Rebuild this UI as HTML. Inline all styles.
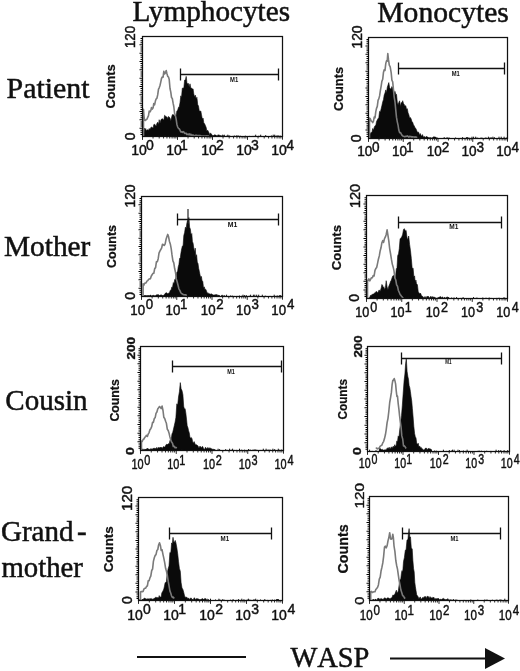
<!DOCTYPE html>
<html lang="en"><head><meta charset="utf-8"><title>WASP expression</title>
<style>
html,body{margin:0;padding:0;background:#fff}
body{width:520px;height:671px;overflow:hidden;position:relative}
svg{position:absolute;left:0;top:0;display:block}
text{fill:#111}
.ax{font-family:"Liberation Sans",sans-serif;stroke:#111;stroke-width:.45px}
.cnt{font-family:"Liberation Sans",sans-serif;font-weight:bold;stroke:#111;stroke-width:.25px}
.m1{font-family:"Liberation Sans",sans-serif;font-size:6.4px;font-weight:bold;text-anchor:middle}
.t{font-family:"Liberation Serif",serif;font-size:29px;stroke:#111;stroke-width:.5px}
</style></head><body>
<svg width="520" height="671" viewBox="0 0 520 671">
<rect width="520" height="671" fill="#fff"/>
<text class="t" x="132.6" y="21.2" textLength="157.5" lengthAdjust="spacingAndGlyphs">Lymphocytes</text>
<text class="t" x="377.3" y="22.3" textLength="131.5" lengthAdjust="spacingAndGlyphs">Monocytes</text>
<text class="t" x="6.6" y="98" textLength="83" lengthAdjust="spacingAndGlyphs">Patient</text>
<text class="t" x="4" y="255.8" textLength="86.4" lengthAdjust="spacingAndGlyphs">Mother</text>
<text class="t" x="5.3" y="410">Cousin</text>
<text class="t" x="1" y="540.8">Grand<tspan dx="3.5">-</tspan></text>
<text class="t" x="1.5" y="577" textLength="81.4" lengthAdjust="spacingAndGlyphs">mother</text>
<g><path d="M143.8 136.5 L143.8 136.3 L144.3 128.0 L145.0 130.1 L145.7 128.5 L146.3 130.5 L147.0 130.3 L147.7 129.6 L148.5 130.6 L149.2 128.5 L150.0 129.5 L150.8 127.7 L151.5 126.9 L152.3 127.4 L153.1 128.3 L153.8 124.6 L154.6 124.2 L155.4 125.2 L156.2 125.9 L156.9 123.4 L157.7 122.2 L158.5 124.6 L159.2 119.7 L160.0 123.3 L160.8 120.2 L161.5 119.1 L162.3 118.7 L163.1 119.3 L163.8 120.3 L164.6 115.3 L165.4 115.9 L166.2 117.2 L166.9 116.7 L167.7 118.7 L168.5 116.5 L169.2 116.9 L170.0 118.1 L170.8 120.9 L171.5 117.6 L172.3 114.8 L173.1 114.4 L173.8 115.1 L174.6 115.8 L175.4 117.1 L176.2 115.0 L176.9 110.8 L177.7 110.2 L178.5 107.3 L179.2 107.2 L180.0 102.7 L180.8 95.8 L181.5 97.6 L182.3 88.2 L183.1 88.0 L183.8 88.3 L184.6 80.1 L185.4 79.9 L186.2 76.4 L186.9 82.5 L187.7 83.9 L188.5 83.5 L189.2 87.3 L190.0 83.8 L190.8 88.0 L191.5 88.1 L192.3 88.9 L193.1 88.9 L193.8 94.0 L194.6 96.8 L195.4 95.2 L196.2 99.2 L196.9 97.3 L197.7 104.5 L198.5 106.1 L199.2 110.4 L200.0 111.3 L200.8 111.0 L201.5 114.7 L202.3 118.9 L203.1 118.1 L203.8 122.9 L204.6 123.7 L205.4 125.6 L206.2 127.6 L206.9 131.2 L207.7 130.2 L208.5 131.7 L209.2 133.3 L209.9 134.7 L210.5 132.9 L211.2 134.1 L211.9 134.5 L212.5 135.5 L213.2 135.5 L213.8 135.8 L214.5 134.7 L215.2 135.0 L215.9 135.0 L216.6 136.1 L217.3 136.3 L217.9 134.8 L218.6 135.0 L219.3 135.2 L220.0 135.2 L220.7 135.7 L221.4 135.9 L222.1 135.4 L222.7 135.0 L223.4 135.7 L224.1 135.7 L224.8 136.0 L225.5 136.5 L226.2 136.3 L226.8 136.1 L227.5 136.3 L228.2 136.4 L228.9 135.6 L229.6 136.5 L230.3 136.5 L230.9 136.5 L231.6 136.5 L232.3 136.5 L232.3 136.5Z" fill="#0a0a0a" stroke="#0a0a0a" stroke-width="0.6" stroke-linejoin="round"/>
<path d="M148.9 136.5v-1.8M149.9 136.5v-0.8M152.3 136.5v-0.6M153.9 136.5v-0.8M158.6 136.5v-1.4M160.7 136.5v-0.8M164.2 136.5v-1.8M165.6 136.5v-1.4M168.4 136.5v-1.4M169.9 136.5v-0.6M171.4 136.5v-1.0M173.5 136.5v-0.8M176.4 136.5v-1.4M180.3 136.5v-1.4M181.9 136.5v-0.6M183.2 136.5v-1.0M184.7 136.5v-0.8M186.4 136.5v-1.0M190.2 136.5v-1.0M191.3 136.5v-1.8M194.7 136.5v-1.4M196.2 136.5v-1.0M198.0 136.5v-0.8M199.4 136.5v-0.8M201.5 136.5v-0.8M203.6 136.5v-1.0M204.8 136.5v-1.8M208.0 136.5v-0.8M213.9 136.5v-1.0M215.4 136.5v-0.6M216.8 136.5v-0.8M221.0 136.5v-0.6M224.2 136.5v-1.8M226.1 136.5v-0.6M227.8 136.5v-1.8M229.5 136.5v-0.8M230.5 136.5v-0.6M232.9 136.5v-0.6M234.3 136.5v-1.0M236.3 136.5v-1.0M237.1 136.5v-1.0M238.3 136.5v-1.0M240.2 136.5v-0.8M245.4 136.5v-0.8M249.4 136.5v-0.6M253.0 136.5v-0.6M254.6 136.5v-0.6M255.7 136.5v-1.8M258.9 136.5v-0.8M260.7 136.5v-1.8M265.7 136.5v-1.4M271.4 136.5v-1.0M273.2 136.5v-1.8M274.7 136.5v-1.8M276.2 136.5v-1.0M278.0 136.5v-1.4M280.1 136.5v-1.0" stroke="#111" stroke-width="1" fill="none"/>
<path d="M143.5 136.0 L143.5 123.7 L143.5 109.4 L144.0 116.0 L144.6 120.3 L145.4 120.4 L146.2 119.6 L146.9 119.2 L147.7 117.4 L148.5 115.7 L149.2 111.1 L150.0 111.9 L150.8 110.6 L151.5 107.5 L152.3 109.1 L153.1 107.9 L153.8 103.5 L154.6 104.9 L155.4 101.1 L156.2 98.8 L156.9 98.3 L157.7 94.9 L158.5 89.2 L159.2 87.8 L160.0 85.5 L160.8 81.9 L161.5 78.5 L162.3 77.0 L163.1 77.1 L163.8 71.3 L164.6 73.9 L165.4 73.0 L166.2 70.5 L166.9 73.5 L167.7 76.3 L168.5 77.0 L169.2 79.4 L170.0 88.5 L170.8 92.1 L171.5 97.4 L172.3 98.4 L173.1 103.2 L173.8 106.5 L174.6 113.3 L175.4 115.7 L176.2 119.4 L176.9 124.4 L177.7 127.1 L178.5 128.4 L179.2 128.7 L180.0 130.1 L180.8 131.9 L181.5 131.7 L182.3 132.3 L183.1 131.6 L183.8 132.0 L184.6 133.4 L185.4 133.4 L186.2 133.2 L186.9 134.6 L187.7 134.3 L188.5 134.7 L189.2 133.9 L190.0 135.1 L190.8 134.2 L191.5 135.4 L192.3 135.0 L193.1 135.1 L193.8 135.4 L194.6 135.9 L195.4 135.3 L196.2 135.2 L196.9 135.7 L197.7 135.5 L198.5 135.5 L199.2 135.6 L200.0 135.6 L200.8 135.8 L201.5 136.0 L202.3 136.0 L203.1 136.0 L203.8 136.0 L204.6 136.0 L205.4 136.0 L206.2 136.0 L206.9 135.9 L207.7 136.0 L208.5 136.0 L209.2 136.0" fill="none" stroke="#7a7a7a" stroke-width="1.6" stroke-linejoin="round"/>
<rect x="142.5" y="36.5" width="140.0" height="100.0" fill="none" stroke="#111" stroke-width="1.25"/>
<path d="M142.5 134.42h-2.0M142.5 132.33h-2.0M142.5 130.25h-2.0M142.5 128.17h-3.0M142.5 126.08h-2.0M142.5 124.00h-2.0M142.5 121.92h-2.0M142.5 119.83h-3.0M142.5 117.75h-2.0M142.5 115.67h-2.0M142.5 113.58h-2.0M142.5 111.50h-3.0M142.5 109.42h-2.0M142.5 107.33h-2.0M142.5 105.25h-2.0M142.5 103.17h-3.0M142.5 101.08h-2.0M142.5 99.00h-2.0M142.5 96.92h-2.0M142.5 94.83h-3.0M142.5 92.75h-2.0M142.5 90.67h-2.0M142.5 88.58h-2.0M142.5 86.50h-3.0M142.5 84.42h-2.0M142.5 82.33h-2.0M142.5 80.25h-2.0M142.5 78.17h-3.0M142.5 76.08h-2.0M142.5 74.00h-2.0M142.5 71.92h-2.0M142.5 69.83h-3.0M142.5 67.75h-2.0M142.5 65.67h-2.0M142.5 63.58h-2.0M142.5 61.50h-3.0M142.5 59.42h-2.0M142.5 57.33h-2.0M142.5 55.25h-2.0M142.5 53.17h-3.0M142.5 51.08h-2.0M142.5 49.00h-2.0M142.5 46.92h-2.0M142.5 44.83h-3.0M142.5 42.75h-2.0M142.5 40.67h-2.0M142.5 38.58h-2.0" stroke="#000" stroke-width="1.05" fill="none"/>
<path d="M142.50 136.5v3.4M153.04 136.5v2.0M159.20 136.5v2.0M163.57 136.5v2.0M166.96 136.5v2.0M169.74 136.5v2.0M172.08 136.5v2.0M174.11 136.5v2.0M175.90 136.5v2.0M177.50 136.5v3.4M188.04 136.5v2.0M194.20 136.5v2.0M198.57 136.5v2.0M201.96 136.5v2.0M204.74 136.5v2.0M207.08 136.5v2.0M209.11 136.5v2.0M210.90 136.5v2.0M212.50 136.5v3.4M223.04 136.5v2.0M229.20 136.5v2.0M233.57 136.5v2.0M236.96 136.5v2.0M239.74 136.5v2.0M242.08 136.5v2.0M244.11 136.5v2.0M245.90 136.5v2.0M247.50 136.5v3.4M258.04 136.5v2.0M264.20 136.5v2.0M268.57 136.5v2.0M271.96 136.5v2.0M274.74 136.5v2.0M277.08 136.5v2.0M279.11 136.5v2.0M280.90 136.5v2.0M282.50 136.5v3.2" stroke="#111" stroke-width="0.9" fill="none"/>
<path d="M180.5 74.5H278.5M180.5 68.5v12M278.5 68.5v12" stroke="#111" stroke-width="1.3" fill="none"/>
<text x="234.2" y="81.5" class="m1" textLength="8.2" lengthAdjust="spacingAndGlyphs">M1</text>
<text transform="translate(146.80 154.5) scale(1.000 1)" class="ax" font-size="14" text-anchor="end">10</text>
<text transform="translate(145.90 149.5) scale(1.000 1)" class="ax" font-size="14">0</text>
<text transform="translate(181.80 154.5) scale(1.000 1)" class="ax" font-size="14" text-anchor="end">10</text>
<text transform="translate(179.97 149.5) scale(1.000 1)" class="ax" font-size="14">1</text>
<text transform="translate(216.80 154.5) scale(1.000 1)" class="ax" font-size="14" text-anchor="end">10</text>
<text transform="translate(216.08 149.5) scale(1.000 1)" class="ax" font-size="14">2</text>
<text transform="translate(251.80 154.5) scale(1.000 1)" class="ax" font-size="14" text-anchor="end">10</text>
<text transform="translate(251.08 149.5) scale(1.000 1)" class="ax" font-size="14">3</text>
<text transform="translate(286.80 154.5) scale(1.000 1)" class="ax" font-size="14" text-anchor="end">10</text>
<text transform="translate(286.22 149.5) scale(1.000 1)" class="ax" font-size="14">4</text>
<text transform="translate(135.0 37.0) rotate(-90) scale(1 1.00)" class="ax" font-size="14" text-anchor="middle" textLength="22.0" lengthAdjust="spacingAndGlyphs">120</text>
<text transform="translate(134.6 136.3) rotate(-90) scale(1 1.00)" class="ax" font-size="14" text-anchor="middle">0</text>
<text transform="translate(115.0 86.4) rotate(-90) scale(1 1.00)" class="cnt" font-size="13" text-anchor="middle" textLength="44.3" lengthAdjust="spacingAndGlyphs">Counts</text></g>
<g><path d="M369.0 138.5 L369.0 138.1 L369.6 136.0 L370.4 133.2 L371.2 132.2 L371.9 132.8 L372.7 128.5 L373.5 130.2 L374.2 127.4 L375.0 125.7 L375.8 125.5 L376.5 121.4 L377.3 120.0 L378.1 118.5 L378.8 117.8 L379.6 111.3 L380.4 111.9 L381.2 108.6 L381.9 105.6 L382.7 101.9 L383.5 99.4 L384.2 95.1 L385.0 93.0 L385.8 89.9 L386.5 92.7 L387.3 87.2 L388.1 84.8 L388.8 82.6 L389.6 87.6 L390.4 89.1 L391.2 88.6 L391.9 86.6 L392.7 87.9 L393.5 89.9 L394.2 92.8 L395.0 91.4 L395.8 94.7 L396.5 94.3 L397.3 102.3 L398.1 105.0 L398.8 102.5 L399.6 100.8 L400.4 106.6 L401.2 102.5 L401.9 103.0 L402.7 100.7 L403.5 103.6 L404.2 104.4 L405.0 106.2 L405.8 105.7 L406.5 109.3 L407.3 108.7 L408.1 112.9 L408.8 114.6 L409.6 117.9 L410.4 117.5 L411.2 119.1 L411.9 121.6 L412.7 122.3 L413.5 125.0 L414.2 125.8 L415.0 127.8 L415.8 128.4 L416.5 130.1 L417.3 132.2 L418.1 131.9 L418.8 132.5 L419.6 135.3 L420.4 133.6 L421.2 136.0 L421.8 135.9 L422.5 134.6 L423.2 136.8 L423.8 137.1 L424.5 136.6 L425.2 137.1 L425.9 137.4 L426.5 136.2 L427.2 137.0 L427.9 137.1 L428.5 137.8 L429.2 137.8 L429.8 137.9 L430.5 137.5 L431.2 138.1 L431.8 137.8 L432.5 137.8 L433.2 137.0 L433.9 136.7 L434.6 136.9 L435.3 137.3 L435.9 136.9 L436.6 138.2 L437.3 137.7 L437.3 138.5Z" fill="#0a0a0a" stroke="#0a0a0a" stroke-width="0.6" stroke-linejoin="round"/>
<path d="M371.2 138.5v-1.0M379.5 138.5v-1.8M382.7 138.5v-1.0M384.5 138.5v-1.0M385.6 138.5v-1.8M388.0 138.5v-1.4M389.9 138.5v-1.0M390.8 138.5v-0.6M392.0 138.5v-1.4M393.7 138.5v-0.6M397.8 138.5v-1.8M399.0 138.5v-1.4M400.4 138.5v-1.8M402.3 138.5v-1.0M408.8 138.5v-1.8M412.1 138.5v-1.0M414.0 138.5v-1.4M416.1 138.5v-0.6M417.8 138.5v-1.4M419.8 138.5v-0.8M420.9 138.5v-1.8M422.3 138.5v-0.6M423.1 138.5v-1.8M426.1 138.5v-0.6M428.7 138.5v-0.8M429.5 138.5v-0.8M433.6 138.5v-1.0M435.4 138.5v-1.4M444.2 138.5v-1.4M445.9 138.5v-0.6M447.1 138.5v-1.4M448.5 138.5v-0.8M449.5 138.5v-0.8M455.6 138.5v-1.0M460.9 138.5v-0.6M462.6 138.5v-1.4M464.1 138.5v-0.6M466.4 138.5v-1.4M467.6 138.5v-1.4M468.9 138.5v-1.0M471.1 138.5v-0.6M472.0 138.5v-1.8M473.6 138.5v-1.8M475.7 138.5v-1.8M477.1 138.5v-1.0M478.2 138.5v-0.6M480.7 138.5v-0.8M481.9 138.5v-1.0M485.3 138.5v-1.0M486.6 138.5v-0.8M488.4 138.5v-1.8M489.6 138.5v-0.8M490.6 138.5v-1.0M491.5 138.5v-1.0M492.9 138.5v-1.8M494.3 138.5v-1.4M499.0 138.5v-1.8M501.2 138.5v-1.8M504.1 138.5v-1.8M506.3 138.5v-1.0" stroke="#111" stroke-width="1" fill="none"/>
<path d="M369.5 138.0 L369.5 131.8 L369.5 118.1 L369.5 120.9 L370.2 118.5 L371.2 121.0 L371.9 121.4 L372.7 122.6 L373.5 121.2 L374.2 117.1 L375.0 117.8 L375.8 111.6 L376.5 108.4 L377.3 106.4 L378.1 100.1 L378.8 98.9 L379.6 95.9 L380.4 90.3 L381.2 85.8 L381.9 81.2 L382.7 79.3 L383.5 72.2 L384.2 69.7 L385.0 70.4 L385.8 63.4 L386.5 60.9 L387.2 61.2 L387.8 53.6 L388.5 59.7 L389.3 65.2 L390.2 66.8 L391.2 72.9 L391.9 80.2 L392.7 81.8 L393.5 90.1 L394.2 97.1 L395.0 102.0 L395.8 110.4 L396.5 117.4 L397.3 121.8 L398.1 125.4 L398.8 130.1 L399.6 132.6 L400.4 132.5 L401.2 133.8 L401.9 135.1 L402.7 136.0 L403.5 136.2 L404.2 136.6 L405.0 136.7 L405.8 136.3 L406.5 136.4 L407.3 135.9 L408.1 136.4 L408.8 137.1 L409.6 136.3 L410.4 136.8 L411.2 136.6 L411.9 137.3 L412.7 136.7 L413.5 137.1 L414.2 136.9 L415.0 137.6 L415.8 136.8 L416.5 137.5 L417.3 137.4" fill="none" stroke="#7a7a7a" stroke-width="1.6" stroke-linejoin="round"/>
<rect x="368.5" y="37.5" width="139.0" height="101.0" fill="none" stroke="#111" stroke-width="1.25"/>
<path d="M368.5 136.40h-2.0M368.5 134.29h-2.0M368.5 132.19h-2.0M368.5 130.08h-3.0M368.5 127.98h-2.0M368.5 125.88h-2.0M368.5 123.77h-2.0M368.5 121.67h-3.0M368.5 119.56h-2.0M368.5 117.46h-2.0M368.5 115.35h-2.0M368.5 113.25h-3.0M368.5 111.15h-2.0M368.5 109.04h-2.0M368.5 106.94h-2.0M368.5 104.83h-3.0M368.5 102.73h-2.0M368.5 100.62h-2.0M368.5 98.52h-2.0M368.5 96.42h-3.0M368.5 94.31h-2.0M368.5 92.21h-2.0M368.5 90.10h-2.0M368.5 88.00h-3.0M368.5 85.90h-2.0M368.5 83.79h-2.0M368.5 81.69h-2.0M368.5 79.58h-3.0M368.5 77.48h-2.0M368.5 75.38h-2.0M368.5 73.27h-2.0M368.5 71.17h-3.0M368.5 69.06h-2.0M368.5 66.96h-2.0M368.5 64.85h-2.0M368.5 62.75h-3.0M368.5 60.65h-2.0M368.5 58.54h-2.0M368.5 56.44h-2.0M368.5 54.33h-3.0M368.5 52.23h-2.0M368.5 50.12h-2.0M368.5 48.02h-2.0M368.5 45.92h-3.0M368.5 43.81h-2.0M368.5 41.71h-2.0M368.5 39.60h-2.0" stroke="#000" stroke-width="1.05" fill="none"/>
<path d="M368.50 138.5v3.4M378.96 138.5v2.0M385.08 138.5v2.0M389.42 138.5v2.0M392.79 138.5v2.0M395.54 138.5v2.0M397.87 138.5v2.0M399.88 138.5v2.0M401.66 138.5v2.0M403.25 138.5v3.4M413.71 138.5v2.0M419.83 138.5v2.0M424.17 138.5v2.0M427.54 138.5v2.0M430.29 138.5v2.0M432.62 138.5v2.0M434.63 138.5v2.0M436.41 138.5v2.0M438.00 138.5v3.4M448.46 138.5v2.0M454.58 138.5v2.0M458.92 138.5v2.0M462.29 138.5v2.0M465.04 138.5v2.0M467.37 138.5v2.0M469.38 138.5v2.0M471.16 138.5v2.0M472.75 138.5v3.4M483.21 138.5v2.0M489.33 138.5v2.0M493.67 138.5v2.0M497.04 138.5v2.0M499.79 138.5v2.0M502.12 138.5v2.0M504.13 138.5v2.0M505.91 138.5v2.0M507.50 138.5v3.2" stroke="#111" stroke-width="0.9" fill="none"/>
<path d="M398.5 68.5H504.5M398.5 62.5v12M504.5 62.5v12" stroke="#111" stroke-width="1.3" fill="none"/>
<text x="455.8" y="76.3" class="m1" textLength="8.1" lengthAdjust="spacingAndGlyphs">M1</text>
<text transform="translate(372.38 155.9) scale(0.970 1)" class="ax" font-size="14" text-anchor="end">10</text>
<text transform="translate(372.12 151.5) scale(0.970 1)" class="ax" font-size="14">0</text>
<text transform="translate(407.13 155.9) scale(0.970 1)" class="ax" font-size="14" text-anchor="end">10</text>
<text transform="translate(405.97 151.5) scale(0.970 1)" class="ax" font-size="14">1</text>
<text transform="translate(441.88 155.9) scale(0.970 1)" class="ax" font-size="14" text-anchor="end">10</text>
<text transform="translate(441.79 151.5) scale(0.970 1)" class="ax" font-size="14">2</text>
<text transform="translate(476.63 155.9) scale(0.970 1)" class="ax" font-size="14" text-anchor="end">10</text>
<text transform="translate(476.54 151.5) scale(0.970 1)" class="ax" font-size="14">3</text>
<text transform="translate(511.38 155.9) scale(0.970 1)" class="ax" font-size="14" text-anchor="end">10</text>
<text transform="translate(511.43 151.5) scale(0.970 1)" class="ax" font-size="14">4</text>
<text transform="translate(361.6 37.0) rotate(-90) scale(1 1.00)" class="ax" font-size="14" text-anchor="middle" textLength="23.2" lengthAdjust="spacingAndGlyphs">120</text>
<text transform="translate(360.7 138.3) rotate(-90) scale(1 1.00)" class="ax" font-size="14" text-anchor="middle">0</text>
<text transform="translate(342.8 89.0) rotate(-90) scale(1 1.00)" class="cnt" font-size="13" text-anchor="middle" textLength="44.0" lengthAdjust="spacingAndGlyphs">Counts</text></g>
<g><path d="M145.2 296.5 L145.2 296.2 L145.9 296.5 L146.6 296.0 L147.3 296.5 L148.0 295.2 L148.7 296.1 L149.3 296.5 L150.0 295.1 L150.7 295.1 L151.4 296.0 L152.1 295.6 L152.8 296.1 L153.5 295.2 L154.2 295.6 L154.9 296.1 L155.6 295.4 L156.3 294.9 L157.0 294.8 L157.7 294.8 L158.5 294.8 L159.2 295.6 L159.9 295.3 L160.6 295.1 L161.3 294.7 L162.1 295.5 L162.8 295.7 L163.5 295.9 L164.2 294.7 L165.0 293.6 L165.7 293.1 L166.5 292.7 L167.2 293.2 L167.9 294.1 L168.7 292.9 L169.4 293.1 L170.2 290.4 L171.0 290.3 L171.8 287.0 L172.5 287.4 L173.3 282.6 L174.0 283.7 L174.7 279.4 L175.5 279.4 L176.2 275.9 L176.9 272.1 L177.6 271.6 L178.2 266.9 L178.9 264.6 L179.6 258.4 L180.3 257.7 L181.0 252.5 L181.7 248.8 L182.4 246.0 L183.1 245.5 L183.8 235.5 L184.6 232.6 L185.4 227.2 L186.2 228.3 L186.8 223.4 L187.5 220.5 L188.1 224.2 L188.9 217.5 L189.6 227.2 L190.4 229.2 L191.1 235.4 L191.8 233.5 L192.4 241.4 L193.1 243.3 L193.8 248.1 L194.5 252.2 L195.2 248.1 L195.9 257.1 L196.6 254.7 L197.3 262.2 L198.0 263.4 L198.7 268.5 L199.4 271.5 L200.1 275.2 L200.8 277.6 L201.4 276.4 L202.1 280.9 L202.8 281.3 L203.5 288.0 L204.3 286.8 L205.0 289.7 L205.7 289.2 L206.5 291.1 L207.2 293.4 L208.0 292.6 L208.7 293.9 L209.5 293.8 L210.2 294.1 L211.0 294.2 L211.7 293.8 L212.4 294.5 L213.1 295.1 L213.8 294.9 L214.5 295.1 L215.2 294.4 L215.9 295.1 L216.6 294.6 L217.3 294.7 L218.0 295.8 L218.8 295.2 L219.5 295.6 L220.2 296.5 L220.9 296.5 L221.6 295.3 L222.3 295.2 L223.0 295.8 L223.7 296.5 L224.4 295.5 L225.1 296.0 L225.8 296.4 L226.5 296.0 L226.5 296.5Z" fill="#0a0a0a" stroke="#0a0a0a" stroke-width="0.6" stroke-linejoin="round"/>
<path d="M144.4 296.5v-1.4M145.6 296.5v-1.4M146.9 296.5v-1.4M148.0 296.5v-1.0M149.1 296.5v-1.0M150.1 296.5v-1.0M152.5 296.5v-1.0M154.0 296.5v-1.0M158.4 296.5v-1.8M160.4 296.5v-1.0M162.4 296.5v-0.8M163.2 296.5v-1.4M165.4 296.5v-1.0M167.5 296.5v-0.8M169.0 296.5v-0.6M170.5 296.5v-1.4M173.3 296.5v-0.8M174.4 296.5v-0.8M176.8 296.5v-1.4M177.6 296.5v-1.0M179.6 296.5v-0.8M180.9 296.5v-0.8M182.0 296.5v-1.4M184.8 296.5v-1.8M187.6 296.5v-0.6M195.0 296.5v-1.4M197.6 296.5v-0.8M201.0 296.5v-0.8M204.5 296.5v-1.0M211.0 296.5v-0.8M212.5 296.5v-0.6M216.0 296.5v-0.8M217.8 296.5v-0.6M218.8 296.5v-1.4M219.8 296.5v-0.6M223.3 296.5v-1.0M226.6 296.5v-1.8M228.8 296.5v-0.6M230.5 296.5v-1.0M232.2 296.5v-1.0M234.1 296.5v-0.6M237.1 296.5v-0.6M239.4 296.5v-1.0M242.0 296.5v-0.8M243.0 296.5v-1.8M244.6 296.5v-1.4M246.3 296.5v-1.4M249.2 296.5v-0.8M250.6 296.5v-1.8M253.4 296.5v-1.8M254.8 296.5v-1.8M256.7 296.5v-1.8M258.7 296.5v-1.8M262.3 296.5v-1.8M264.7 296.5v-0.6M265.6 296.5v-0.8M270.1 296.5v-0.6M274.2 296.5v-1.8M275.4 296.5v-0.6M277.1 296.5v-1.0M278.0 296.5v-0.8M279.7 296.5v-1.4M280.7 296.5v-1.4" stroke="#111" stroke-width="1" fill="none"/>
<path d="M143.1 296.0 L143.1 292.1 L143.1 283.8 L143.9 285.1 L144.6 283.3 L145.4 283.1 L146.2 282.7 L146.9 281.1 L147.8 280.6 L148.7 279.2 L149.5 278.9 L150.4 278.8 L151.2 276.2 L152.1 274.8 L153.0 273.4 L153.8 273.3 L154.7 268.6 L155.6 267.6 L156.4 261.9 L157.3 261.7 L158.2 258.7 L159.0 253.1 L159.9 251.1 L160.8 249.5 L161.6 248.2 L162.5 244.3 L163.4 244.8 L164.2 245.5 L165.1 244.1 L166.0 239.6 L166.8 237.1 L167.7 234.4 L168.6 236.8 L169.4 241.2 L170.3 243.9 L171.2 248.6 L172.0 254.9 L172.9 260.9 L173.8 262.9 L174.6 268.3 L175.5 272.2 L176.3 278.9 L177.2 282.0 L178.1 285.5 L178.9 288.8 L179.8 290.4 L180.7 292.4 L181.5 293.6 L182.4 293.9 L183.3 294.7 L184.1 294.7 L185.0 294.9 L185.9 294.9 L186.7 295.7" fill="none" stroke="#7a7a7a" stroke-width="1.6" stroke-linejoin="round"/>
<path d="M188.0 209.0V222.0" stroke="#111" stroke-width="1.1"/>
<rect x="141.5" y="196.5" width="141.0" height="100.0" fill="none" stroke="#111" stroke-width="1.25"/>
<path d="M141.5 294.42h-2.0M141.5 292.33h-2.0M141.5 290.25h-2.0M141.5 288.17h-3.0M141.5 286.08h-2.0M141.5 284.00h-2.0M141.5 281.92h-2.0M141.5 279.83h-3.0M141.5 277.75h-2.0M141.5 275.67h-2.0M141.5 273.58h-2.0M141.5 271.50h-3.0M141.5 269.42h-2.0M141.5 267.33h-2.0M141.5 265.25h-2.0M141.5 263.17h-3.0M141.5 261.08h-2.0M141.5 259.00h-2.0M141.5 256.92h-2.0M141.5 254.83h-3.0M141.5 252.75h-2.0M141.5 250.67h-2.0M141.5 248.58h-2.0M141.5 246.50h-3.0M141.5 244.42h-2.0M141.5 242.33h-2.0M141.5 240.25h-2.0M141.5 238.17h-3.0M141.5 236.08h-2.0M141.5 234.00h-2.0M141.5 231.92h-2.0M141.5 229.83h-3.0M141.5 227.75h-2.0M141.5 225.67h-2.0M141.5 223.58h-2.0M141.5 221.50h-3.0M141.5 219.42h-2.0M141.5 217.33h-2.0M141.5 215.25h-2.0M141.5 213.17h-3.0M141.5 211.08h-2.0M141.5 209.00h-2.0M141.5 206.92h-2.0M141.5 204.83h-3.0M141.5 202.75h-2.0M141.5 200.67h-2.0M141.5 198.58h-2.0" stroke="#000" stroke-width="1.05" fill="none"/>
<path d="M141.50 296.5v3.4M152.11 296.5v2.0M158.32 296.5v2.0M162.72 296.5v2.0M166.14 296.5v2.0M168.93 296.5v2.0M171.29 296.5v2.0M173.33 296.5v2.0M175.14 296.5v2.0M176.75 296.5v3.4M187.36 296.5v2.0M193.57 296.5v2.0M197.97 296.5v2.0M201.39 296.5v2.0M204.18 296.5v2.0M206.54 296.5v2.0M208.58 296.5v2.0M210.39 296.5v2.0M212.00 296.5v3.4M222.61 296.5v2.0M228.82 296.5v2.0M233.22 296.5v2.0M236.64 296.5v2.0M239.43 296.5v2.0M241.79 296.5v2.0M243.83 296.5v2.0M245.64 296.5v2.0M247.25 296.5v3.4M257.86 296.5v2.0M264.07 296.5v2.0M268.47 296.5v2.0M271.89 296.5v2.0M274.68 296.5v2.0M277.04 296.5v2.0M279.08 296.5v2.0M280.89 296.5v2.0M282.50 296.5v3.2" stroke="#111" stroke-width="0.9" fill="none"/>
<path d="M177.5 219.5H278.5M177.5 213.5v12M278.5 213.5v12" stroke="#111" stroke-width="1.3" fill="none"/>
<text x="232.5" y="227.0" class="m1" textLength="9.6" lengthAdjust="spacingAndGlyphs">M1</text>
<text transform="translate(145.07 314.6) scale(0.950 1)" class="ax" font-size="14" text-anchor="end">10</text>
<text transform="translate(145.63 308.9) scale(0.950 1)" class="ax" font-size="14">0</text>
<text transform="translate(180.32 314.6) scale(0.950 1)" class="ax" font-size="14" text-anchor="end">10</text>
<text transform="translate(180.00 308.9) scale(0.950 1)" class="ax" font-size="14">1</text>
<text transform="translate(215.57 314.6) scale(0.950 1)" class="ax" font-size="14" text-anchor="end">10</text>
<text transform="translate(216.30 308.9) scale(0.950 1)" class="ax" font-size="14">2</text>
<text transform="translate(250.82 314.6) scale(0.950 1)" class="ax" font-size="14" text-anchor="end">10</text>
<text transform="translate(251.55 308.9) scale(0.950 1)" class="ax" font-size="14">3</text>
<text transform="translate(286.07 314.6) scale(0.950 1)" class="ax" font-size="14" text-anchor="end">10</text>
<text transform="translate(286.93 308.9) scale(0.950 1)" class="ax" font-size="14">4</text>
<text transform="translate(134.7 196.0) rotate(-90) scale(1 1.00)" class="ax" font-size="14" text-anchor="middle" textLength="23.2" lengthAdjust="spacingAndGlyphs">120</text>
<text transform="translate(134.7 295.9) rotate(-90) scale(1 1.00)" class="ax" font-size="14" text-anchor="middle">0</text>
<text transform="translate(115.5 246.5) rotate(-90) scale(1 1.00)" class="cnt" font-size="13" text-anchor="middle" textLength="43.0" lengthAdjust="spacingAndGlyphs">Counts</text></g>
<g><path d="M368.9 298.5 L368.9 297.8 L369.7 297.4 L370.4 295.5 L371.1 294.8 L371.9 295.5 L372.6 294.1 L373.4 294.1 L374.1 293.5 L374.9 292.8 L375.6 292.2 L376.3 291.4 L377.1 291.9 L377.8 293.3 L378.6 290.7 L379.3 289.9 L380.0 291.5 L380.6 289.9 L381.3 287.5 L381.9 284.5 L382.6 285.3 L383.2 288.0 L383.9 286.7 L384.5 289.5 L385.4 287.7 L386.2 280.7 L387.1 287.0 L388.0 289.8 L388.6 286.8 L389.3 285.1 L389.9 283.5 L390.6 281.3 L391.3 280.3 L392.1 277.7 L392.8 275.9 L393.5 275.7 L394.2 275.1 L395.2 280.5 L396.3 268.7 L397.0 267.7 L397.7 255.7 L398.5 253.9 L399.3 248.5 L400.1 238.7 L400.7 238.5 L401.4 237.3 L402.0 236.3 L402.7 234.2 L403.5 229.4 L404.4 228.7 L405.3 231.1 L406.1 230.4 L406.8 236.1 L407.4 240.0 L408.1 237.9 L408.7 236.0 L409.6 244.4 L410.5 250.8 L411.3 258.3 L412.2 268.5 L413.1 268.1 L413.9 277.0 L414.6 275.9 L415.2 282.2 L415.9 280.0 L416.5 283.7 L417.4 284.7 L418.2 291.4 L418.9 292.7 L419.5 294.0 L420.2 293.0 L420.8 293.8 L421.5 295.8 L422.2 296.2 L422.9 296.6 L423.6 297.4 L424.3 297.8 L425.0 296.4 L425.7 297.8 L426.4 297.7 L427.1 296.1 L427.8 297.0 L428.5 296.3 L429.2 297.9 L429.8 297.8 L430.5 296.5 L431.2 296.5 L431.9 298.0 L432.6 296.6 L433.3 297.0 L434.0 297.5 L434.7 297.1 L435.4 298.0 L436.1 298.2 L436.8 298.3 L437.5 298.1 L438.2 297.6 L438.8 297.5 L439.5 297.6 L440.2 296.7 L440.9 296.8 L441.6 298.4 L442.3 297.2 L443.0 298.3 L443.7 298.2 L444.4 297.5 L445.1 297.9 L445.8 297.9 L446.5 297.2 L447.2 297.0 L447.8 297.2 L448.5 297.8 L448.5 298.5Z" fill="#0a0a0a" stroke="#0a0a0a" stroke-width="0.6" stroke-linejoin="round"/>
<path d="M367.5 298.5v-0.6M368.8 298.5v-0.6M374.1 298.5v-0.8M378.2 298.5v-1.0M382.0 298.5v-1.4M383.5 298.5v-0.6M384.4 298.5v-1.0M385.7 298.5v-0.8M388.3 298.5v-1.4M389.2 298.5v-0.8M391.3 298.5v-1.8M399.4 298.5v-1.0M402.8 298.5v-1.4M405.4 298.5v-1.4M408.1 298.5v-1.8M409.0 298.5v-0.6M411.2 298.5v-0.8M413.3 298.5v-1.4M414.9 298.5v-0.6M416.1 298.5v-1.0M418.2 298.5v-1.0M425.0 298.5v-0.8M430.7 298.5v-1.4M431.9 298.5v-0.6M433.2 298.5v-1.0M435.3 298.5v-0.6M438.1 298.5v-0.8M439.7 298.5v-1.8M441.4 298.5v-0.8M442.4 298.5v-1.8M444.2 298.5v-1.4M445.8 298.5v-0.6M447.1 298.5v-1.0M448.6 298.5v-1.4M449.8 298.5v-0.6M451.6 298.5v-1.0M453.4 298.5v-0.8M454.5 298.5v-0.8M456.6 298.5v-1.4M460.9 298.5v-0.6M463.1 298.5v-1.4M473.5 298.5v-1.4M475.0 298.5v-0.6M476.9 298.5v-1.0M482.8 298.5v-1.0M486.0 298.5v-0.8M489.2 298.5v-1.0M491.1 298.5v-0.6M496.9 298.5v-0.6M499.0 298.5v-0.8M503.7 298.5v-1.0M504.7 298.5v-1.0" stroke="#111" stroke-width="1" fill="none"/>
<path d="M367.5 298.0 L367.5 296.8 L367.5 280.4 L368.1 280.7 L368.9 278.9 L369.8 280.8 L370.7 279.1 L371.5 277.7 L372.4 277.7 L373.2 275.5 L374.1 276.0 L375.0 270.3 L375.8 268.6 L376.7 267.4 L377.6 263.1 L378.4 259.2 L379.3 255.9 L380.2 250.7 L381.0 247.8 L381.9 242.7 L382.8 240.5 L383.6 242.4 L384.5 238.6 L385.4 236.9 L386.2 234.4 L387.1 229.8 L388.0 235.6 L388.8 240.9 L389.7 248.8 L390.6 254.0 L391.4 259.2 L392.3 264.1 L393.2 267.2 L394.0 270.8 L394.9 278.0 L395.8 280.0 L396.6 284.9 L397.5 286.2 L398.3 290.2 L399.2 292.3 L400.1 294.5 L400.9 295.4 L401.8 296.7 L402.7 297.5 L403.5 297.7" fill="none" stroke="#7a7a7a" stroke-width="1.6" stroke-linejoin="round"/>
<rect x="366.5" y="195.5" width="141.0" height="103.0" fill="none" stroke="#111" stroke-width="1.25"/>
<path d="M366.5 296.35h-2.0M366.5 294.21h-2.0M366.5 292.06h-2.0M366.5 289.92h-3.0M366.5 287.77h-2.0M366.5 285.62h-2.0M366.5 283.48h-2.0M366.5 281.33h-3.0M366.5 279.19h-2.0M366.5 277.04h-2.0M366.5 274.90h-2.0M366.5 272.75h-3.0M366.5 270.60h-2.0M366.5 268.46h-2.0M366.5 266.31h-2.0M366.5 264.17h-3.0M366.5 262.02h-2.0M366.5 259.88h-2.0M366.5 257.73h-2.0M366.5 255.58h-3.0M366.5 253.44h-2.0M366.5 251.29h-2.0M366.5 249.15h-2.0M366.5 247.00h-3.0M366.5 244.85h-2.0M366.5 242.71h-2.0M366.5 240.56h-2.0M366.5 238.42h-3.0M366.5 236.27h-2.0M366.5 234.12h-2.0M366.5 231.98h-2.0M366.5 229.83h-3.0M366.5 227.69h-2.0M366.5 225.54h-2.0M366.5 223.40h-2.0M366.5 221.25h-3.0M366.5 219.10h-2.0M366.5 216.96h-2.0M366.5 214.81h-2.0M366.5 212.67h-3.0M366.5 210.52h-2.0M366.5 208.38h-2.0M366.5 206.23h-2.0M366.5 204.08h-3.0M366.5 201.94h-2.0M366.5 199.79h-2.0M366.5 197.65h-2.0" stroke="#000" stroke-width="1.05" fill="none"/>
<path d="M366.50 298.5v3.4M377.11 298.5v2.0M383.32 298.5v2.0M387.72 298.5v2.0M391.14 298.5v2.0M393.93 298.5v2.0M396.29 298.5v2.0M398.33 298.5v2.0M400.14 298.5v2.0M401.75 298.5v3.4M412.36 298.5v2.0M418.57 298.5v2.0M422.97 298.5v2.0M426.39 298.5v2.0M429.18 298.5v2.0M431.54 298.5v2.0M433.58 298.5v2.0M435.39 298.5v2.0M437.00 298.5v3.4M447.61 298.5v2.0M453.82 298.5v2.0M458.22 298.5v2.0M461.64 298.5v2.0M464.43 298.5v2.0M466.79 298.5v2.0M468.83 298.5v2.0M470.64 298.5v2.0M472.25 298.5v3.4M482.86 298.5v2.0M489.07 298.5v2.0M493.47 298.5v2.0M496.89 298.5v2.0M499.68 298.5v2.0M502.04 298.5v2.0M504.08 298.5v2.0M505.89 298.5v2.0M507.50 298.5v3.2" stroke="#111" stroke-width="0.9" fill="none"/>
<path d="M398.5 222.5H501.5M398.5 216.5v12M501.5 216.5v12" stroke="#111" stroke-width="1.3" fill="none"/>
<text x="453.8" y="228.8" class="m1" textLength="9.1" lengthAdjust="spacingAndGlyphs">M1</text>
<text transform="translate(369.14 316.8) scale(0.900 1)" class="ax" font-size="14" text-anchor="end">10</text>
<text transform="translate(370.36 311.5) scale(0.900 1)" class="ax" font-size="14">0</text>
<text transform="translate(404.39 316.8) scale(0.900 1)" class="ax" font-size="14" text-anchor="end">10</text>
<text transform="translate(404.78 311.5) scale(0.900 1)" class="ax" font-size="14">1</text>
<text transform="translate(439.64 316.8) scale(0.900 1)" class="ax" font-size="14" text-anchor="end">10</text>
<text transform="translate(441.02 311.5) scale(0.900 1)" class="ax" font-size="14">2</text>
<text transform="translate(474.89 316.8) scale(0.900 1)" class="ax" font-size="14" text-anchor="end">10</text>
<text transform="translate(476.27 311.5) scale(0.900 1)" class="ax" font-size="14">3</text>
<text transform="translate(510.14 316.8) scale(0.900 1)" class="ax" font-size="14" text-anchor="end">10</text>
<text transform="translate(511.65 311.5) scale(0.900 1)" class="ax" font-size="14">4</text>
<text transform="translate(359.7 196.0) rotate(-90) scale(1 1.00)" class="ax" font-size="14" text-anchor="middle" textLength="24.2" lengthAdjust="spacingAndGlyphs">120</text>
<text transform="translate(359.2 297.8) rotate(-90) scale(1 1.00)" class="ax" font-size="14" text-anchor="middle">0</text>
<text transform="translate(340.8 247.6) rotate(-90) scale(1 1.00)" class="cnt" font-size="13" text-anchor="middle" textLength="45.2" lengthAdjust="spacingAndGlyphs">Counts</text></g>
<g><path d="M142.2 450.5 L142.2 449.7 L142.9 448.8 L143.6 450.0 L144.3 449.5 L145.0 449.2 L145.7 449.5 L146.3 448.8 L147.0 449.4 L147.7 448.2 L148.4 449.2 L149.1 449.1 L149.8 449.7 L150.5 449.0 L151.2 448.6 L151.9 449.3 L152.6 449.2 L153.3 448.2 L154.0 448.8 L154.7 448.0 L155.3 448.4 L156.0 448.7 L156.7 447.4 L157.4 449.2 L158.1 447.4 L158.8 447.8 L159.5 447.9 L160.2 447.0 L160.8 448.0 L161.5 447.2 L162.2 448.6 L162.9 447.3 L163.5 446.6 L164.2 447.1 L164.9 447.1 L165.6 445.6 L166.3 444.4 L167.0 444.3 L167.7 444.6 L168.4 443.7 L169.2 444.0 L169.9 440.7 L170.6 439.5 L171.3 438.8 L172.0 433.8 L172.7 432.4 L173.5 429.1 L174.3 425.6 L175.1 422.1 L175.9 417.4 L176.8 403.8 L177.7 405.1 L178.5 397.0 L179.4 391.8 L180.3 382.6 L181.1 388.8 L182.0 390.6 L182.9 394.7 L183.7 406.3 L184.4 408.9 L185.1 408.7 L185.8 412.9 L186.5 419.1 L187.2 425.8 L187.9 427.6 L188.6 430.7 L189.3 432.9 L190.0 437.6 L190.7 438.0 L191.3 437.5 L192.0 438.7 L192.7 442.0 L193.4 443.2 L194.1 441.6 L194.7 442.9 L195.4 444.8 L196.0 444.8 L196.7 444.8 L197.4 445.6 L198.0 445.8 L198.7 447.9 L199.4 447.2 L200.0 446.1 L200.7 447.0 L201.4 448.0 L202.1 446.5 L202.8 446.7 L203.5 448.5 L204.2 449.2 L204.8 448.9 L205.5 447.2 L206.2 448.2 L206.9 449.0 L207.6 447.6 L208.3 447.9 L209.0 448.4 L209.7 447.9 L210.4 447.9 L211.2 449.2 L211.9 448.5 L212.7 449.5 L213.4 449.1 L214.1 449.9 L214.9 449.1 L214.9 450.5Z" fill="#0a0a0a" stroke="#0a0a0a" stroke-width="0.6" stroke-linejoin="round"/>
<path d="M141.5 450.5v-1.4M146.0 450.5v-1.4M147.3 450.5v-1.8M148.7 450.5v-1.4M150.7 450.5v-0.8M152.9 450.5v-1.8M154.8 450.5v-0.8M155.8 450.5v-1.4M163.8 450.5v-1.0M165.8 450.5v-1.8M172.1 450.5v-1.8M173.8 450.5v-0.6M174.7 450.5v-0.6M179.9 450.5v-0.6M181.8 450.5v-1.4M183.8 450.5v-0.6M185.2 450.5v-0.8M194.3 450.5v-0.6M199.0 450.5v-1.0M209.7 450.5v-1.0M211.1 450.5v-0.6M213.2 450.5v-0.8M215.1 450.5v-0.6M218.1 450.5v-1.8M219.6 450.5v-1.4M225.7 450.5v-1.4M227.5 450.5v-0.6M229.6 450.5v-1.8M231.3 450.5v-0.8M232.6 450.5v-1.8M234.1 450.5v-0.6M236.4 450.5v-0.6M239.5 450.5v-1.8M241.6 450.5v-0.8M244.5 450.5v-0.8M248.5 450.5v-1.4M250.1 450.5v-1.0M253.1 450.5v-1.0M255.0 450.5v-1.4M256.8 450.5v-0.8M260.2 450.5v-0.6M262.1 450.5v-0.6M263.3 450.5v-1.8M266.1 450.5v-1.8M268.1 450.5v-1.0M270.0 450.5v-1.0M272.9 450.5v-1.8M274.7 450.5v-1.4M278.3 450.5v-1.8M279.8 450.5v-0.8M281.7 450.5v-1.0" stroke="#111" stroke-width="1" fill="none"/>
<path d="M141.5 450.0 L141.5 448.6 L141.5 441.1 L142.2 441.5 L143.1 439.5 L143.9 439.0 L144.8 437.4 L145.7 436.5 L146.5 435.3 L147.4 436.4 L148.2 434.1 L149.1 432.6 L150.0 429.6 L150.8 428.7 L151.7 426.7 L152.6 422.2 L153.4 422.4 L154.3 418.5 L155.2 417.7 L156.0 413.4 L156.9 412.0 L157.8 408.7 L158.6 407.9 L159.5 406.5 L160.4 407.3 L161.2 408.6 L162.1 406.1 L163.0 410.5 L163.8 417.2 L164.7 418.5 L165.6 421.2 L166.4 423.3 L167.3 429.2 L168.2 430.5 L169.0 432.9 L169.9 436.9 L170.8 440.1 L171.6 442.1 L172.5 443.2 L173.3 446.5 L174.2 446.2 L175.1 447.8 L175.9 447.5 L176.8 448.2" fill="none" stroke="#7a7a7a" stroke-width="1.6" stroke-linejoin="round"/>
<rect x="140.5" y="346.5" width="143.0" height="104.0" fill="none" stroke="#111" stroke-width="1.25"/>
<path d="M140.5 448.33h-2.0M140.5 446.17h-2.0M140.5 444.00h-2.0M140.5 441.83h-3.0M140.5 439.67h-2.0M140.5 437.50h-2.0M140.5 435.33h-2.0M140.5 433.17h-3.0M140.5 431.00h-2.0M140.5 428.83h-2.0M140.5 426.67h-2.0M140.5 424.50h-3.0M140.5 422.33h-2.0M140.5 420.17h-2.0M140.5 418.00h-2.0M140.5 415.83h-3.0M140.5 413.67h-2.0M140.5 411.50h-2.0M140.5 409.33h-2.0M140.5 407.17h-3.0M140.5 405.00h-2.0M140.5 402.83h-2.0M140.5 400.67h-2.0M140.5 398.50h-3.0M140.5 396.33h-2.0M140.5 394.17h-2.0M140.5 392.00h-2.0M140.5 389.83h-3.0M140.5 387.67h-2.0M140.5 385.50h-2.0M140.5 383.33h-2.0M140.5 381.17h-3.0M140.5 379.00h-2.0M140.5 376.83h-2.0M140.5 374.67h-2.0M140.5 372.50h-3.0M140.5 370.33h-2.0M140.5 368.17h-2.0M140.5 366.00h-2.0M140.5 363.83h-3.0M140.5 361.67h-2.0M140.5 359.50h-2.0M140.5 357.33h-2.0M140.5 355.17h-3.0M140.5 353.00h-2.0M140.5 350.83h-2.0M140.5 348.67h-2.0" stroke="#000" stroke-width="1.05" fill="none"/>
<path d="M140.50 450.5v3.4M151.26 450.5v2.0M157.56 450.5v2.0M162.02 450.5v2.0M165.49 450.5v2.0M168.32 450.5v2.0M170.71 450.5v2.0M172.79 450.5v2.0M174.61 450.5v2.0M176.25 450.5v3.4M187.01 450.5v2.0M193.31 450.5v2.0M197.77 450.5v2.0M201.24 450.5v2.0M204.07 450.5v2.0M206.46 450.5v2.0M208.54 450.5v2.0M210.36 450.5v2.0M212.00 450.5v3.4M222.76 450.5v2.0M229.06 450.5v2.0M233.52 450.5v2.0M236.99 450.5v2.0M239.82 450.5v2.0M242.21 450.5v2.0M244.29 450.5v2.0M246.11 450.5v2.0M247.75 450.5v3.4M258.51 450.5v2.0M264.81 450.5v2.0M269.27 450.5v2.0M272.74 450.5v2.0M275.57 450.5v2.0M277.96 450.5v2.0M280.04 450.5v2.0M281.86 450.5v2.0M283.50 450.5v3.2" stroke="#111" stroke-width="0.9" fill="none"/>
<path d="M172.5 366.5H281.5M172.5 360.5v12M281.5 360.5v12" stroke="#111" stroke-width="1.3" fill="none"/>
<text x="231.0" y="374.2" class="m1" textLength="7.6" lengthAdjust="spacingAndGlyphs">M1</text>
<text transform="translate(143.57 469.2) scale(0.780 1)" class="ax" font-size="14" text-anchor="end">10</text>
<text transform="translate(144.13 464.6) scale(0.780 1)" class="ax" font-size="14">0</text>
<text transform="translate(179.32 469.2) scale(0.780 1)" class="ax" font-size="14" text-anchor="end">10</text>
<text transform="translate(179.16 464.6) scale(0.780 1)" class="ax" font-size="14">1</text>
<text transform="translate(215.07 469.2) scale(0.780 1)" class="ax" font-size="14" text-anchor="end">10</text>
<text transform="translate(215.77 464.6) scale(0.780 1)" class="ax" font-size="14">2</text>
<text transform="translate(250.82 469.2) scale(0.780 1)" class="ax" font-size="14" text-anchor="end">10</text>
<text transform="translate(251.52 464.6) scale(0.780 1)" class="ax" font-size="14">3</text>
<text transform="translate(286.57 469.2) scale(0.780 1)" class="ax" font-size="14" text-anchor="end">10</text>
<text transform="translate(287.38 464.6) scale(0.780 1)" class="ax" font-size="14">4</text>
<text transform="translate(134.5 348.2) rotate(-90) scale(1 0.82)" class="ax" font-size="14" font-weight="bold" text-anchor="middle" textLength="22.6" lengthAdjust="spacingAndGlyphs">200</text>
<text transform="translate(134.2 451.2) rotate(-90) scale(1 0.82)" class="ax" font-size="14" font-weight="bold" text-anchor="middle">0</text>
<text transform="translate(118.9 400.4) rotate(-90) scale(1 0.92)" class="cnt" font-size="13" text-anchor="middle" textLength="42.4" lengthAdjust="spacingAndGlyphs">Counts</text></g>
<g><path d="M379.3 451.5 L379.3 448.3 L380.0 448.3 L380.8 449.0 L381.5 449.8 L382.2 449.2 L382.9 450.0 L383.6 450.1 L384.4 450.0 L385.1 449.4 L385.8 450.0 L386.5 449.5 L387.2 447.9 L388.0 448.4 L388.6 448.0 L389.3 447.3 L390.0 449.3 L390.7 448.0 L391.3 446.8 L392.0 448.5 L392.7 446.9 L393.3 446.2 L394.0 447.5 L394.7 444.7 L395.4 446.3 L396.1 445.4 L396.8 440.9 L397.5 441.8 L398.2 435.9 L399.0 436.9 L399.7 429.9 L400.6 422.7 L401.5 415.7 L402.3 405.7 L403.2 393.0 L404.1 380.7 L404.9 374.0 L405.6 363.7 L406.3 358.7 L407.1 371.5 L407.9 376.8 L408.5 379.3 L409.1 385.4 L409.8 387.7 L410.4 391.4 L411.0 396.2 L411.7 400.8 L412.4 408.7 L413.1 417.0 L413.8 426.3 L414.6 433.6 L415.3 436.7 L416.0 438.0 L416.7 443.3 L417.5 444.2 L418.2 443.2 L419.0 447.0 L419.8 446.1 L420.6 448.0 L421.3 447.5 L422.1 448.9 L422.8 449.2 L423.6 449.9 L424.3 450.1 L425.0 448.8 L425.7 448.0 L426.4 448.1 L427.1 450.3 L427.8 448.8 L428.5 448.6 L429.2 448.4 L429.8 449.0 L430.5 449.0 L431.2 449.4 L431.2 451.5Z" fill="#0a0a0a" stroke="#0a0a0a" stroke-width="0.6" stroke-linejoin="round"/>
<path d="M369.6 451.5v-1.8M371.1 451.5v-0.6M372.5 451.5v-0.6M376.0 451.5v-1.4M377.3 451.5v-0.6M379.7 451.5v-1.8M382.4 451.5v-1.0M383.9 451.5v-1.4M384.9 451.5v-1.0M389.3 451.5v-1.0M396.7 451.5v-1.4M399.1 451.5v-0.8M400.7 451.5v-1.8M401.5 451.5v-1.4M404.5 451.5v-0.6M405.5 451.5v-0.6M407.0 451.5v-1.0M408.8 451.5v-1.0M412.5 451.5v-1.8M414.4 451.5v-0.6M415.4 451.5v-1.0M417.1 451.5v-1.0M421.4 451.5v-0.8M422.6 451.5v-1.8M425.6 451.5v-1.8M426.6 451.5v-1.4M427.8 451.5v-0.8M428.6 451.5v-0.8M431.5 451.5v-1.8M434.7 451.5v-1.0M436.6 451.5v-0.8M443.4 451.5v-1.8M446.4 451.5v-0.6M448.4 451.5v-0.6M449.4 451.5v-1.4M451.4 451.5v-1.0M452.5 451.5v-1.8M454.1 451.5v-1.8M458.0 451.5v-1.8M459.5 451.5v-1.4M461.8 451.5v-0.6M463.4 451.5v-1.0M465.4 451.5v-0.6M467.1 451.5v-1.8M469.0 451.5v-0.6M478.2 451.5v-0.8M479.6 451.5v-0.8M481.4 451.5v-0.8M484.6 451.5v-0.6M486.7 451.5v-0.8M490.9 451.5v-0.6M496.1 451.5v-1.8M498.7 451.5v-1.4M500.8 451.5v-1.4M504.1 451.5v-1.4M507.7 451.5v-1.4" stroke="#111" stroke-width="1" fill="none"/>
<path d="M375.8 448.6 L376.7 448.0 L377.6 448.9 L378.4 448.4 L379.3 447.9 L380.2 446.1 L381.0 445.7 L381.9 445.1 L382.8 442.8 L383.6 441.6 L384.5 438.6 L385.4 434.8 L386.2 429.8 L387.1 422.6 L388.0 418.3 L388.8 411.5 L389.7 402.5 L390.6 397.3 L391.4 392.4 L392.1 384.7 L392.8 380.4 L393.5 380.4 L394.2 378.6 L394.9 380.7 L395.6 383.9 L396.3 391.3 L396.9 396.5 L397.5 396.1 L398.2 403.6 L398.9 409.1 L399.6 415.8 L400.4 422.6 L401.1 427.4 L401.8 435.9 L402.7 439.0 L403.5 446.0 L404.4 445.9 L405.3 447.1 L406.1 448.5" fill="none" stroke="#7a7a7a" stroke-width="1.6" stroke-linejoin="round"/>
<rect x="367.5" y="346.5" width="142.0" height="105.0" fill="none" stroke="#111" stroke-width="1.25"/>
<path d="M367.5 449.31h-2.0M367.5 447.12h-2.0M367.5 444.94h-2.0M367.5 442.75h-3.0M367.5 440.56h-2.0M367.5 438.38h-2.0M367.5 436.19h-2.0M367.5 434.00h-3.0M367.5 431.81h-2.0M367.5 429.62h-2.0M367.5 427.44h-2.0M367.5 425.25h-3.0M367.5 423.06h-2.0M367.5 420.88h-2.0M367.5 418.69h-2.0M367.5 416.50h-3.0M367.5 414.31h-2.0M367.5 412.12h-2.0M367.5 409.94h-2.0M367.5 407.75h-3.0M367.5 405.56h-2.0M367.5 403.38h-2.0M367.5 401.19h-2.0M367.5 399.00h-3.0M367.5 396.81h-2.0M367.5 394.62h-2.0M367.5 392.44h-2.0M367.5 390.25h-3.0M367.5 388.06h-2.0M367.5 385.88h-2.0M367.5 383.69h-2.0M367.5 381.50h-3.0M367.5 379.31h-2.0M367.5 377.12h-2.0M367.5 374.94h-2.0M367.5 372.75h-3.0M367.5 370.56h-2.0M367.5 368.38h-2.0M367.5 366.19h-2.0M367.5 364.00h-3.0M367.5 361.81h-2.0M367.5 359.62h-2.0M367.5 357.44h-2.0M367.5 355.25h-3.0M367.5 353.06h-2.0M367.5 350.88h-2.0M367.5 348.69h-2.0" stroke="#000" stroke-width="1.05" fill="none"/>
<path d="M367.50 451.5v3.4M378.19 451.5v2.0M384.44 451.5v2.0M388.87 451.5v2.0M392.31 451.5v2.0M395.12 451.5v2.0M397.50 451.5v2.0M399.56 451.5v2.0M401.38 451.5v2.0M403.00 451.5v3.4M413.69 451.5v2.0M419.94 451.5v2.0M424.37 451.5v2.0M427.81 451.5v2.0M430.62 451.5v2.0M433.00 451.5v2.0M435.06 451.5v2.0M436.88 451.5v2.0M438.50 451.5v3.4M449.19 451.5v2.0M455.44 451.5v2.0M459.87 451.5v2.0M463.31 451.5v2.0M466.12 451.5v2.0M468.50 451.5v2.0M470.56 451.5v2.0M472.38 451.5v2.0M474.00 451.5v3.4M484.69 451.5v2.0M490.94 451.5v2.0M495.37 451.5v2.0M498.81 451.5v2.0M501.62 451.5v2.0M504.00 451.5v2.0M506.06 451.5v2.0M507.88 451.5v2.0M509.50 451.5v3.2" stroke="#111" stroke-width="0.9" fill="none"/>
<path d="M401.5 358.5H501.5M401.5 352.5v12M501.5 352.5v12" stroke="#111" stroke-width="1.3" fill="none"/>
<text x="448.4" y="363.9" class="m1" textLength="6.3" lengthAdjust="spacingAndGlyphs">M1</text>
<text transform="translate(370.66 468.3) scale(0.760 1)" class="ax" font-size="14" text-anchor="end">10</text>
<text transform="translate(371.54 463.6) scale(0.760 1)" class="ax" font-size="14">0</text>
<text transform="translate(406.16 468.3) scale(0.760 1)" class="ax" font-size="14" text-anchor="end">10</text>
<text transform="translate(406.34 463.6) scale(0.760 1)" class="ax" font-size="14">1</text>
<text transform="translate(441.66 468.3) scale(0.760 1)" class="ax" font-size="14" text-anchor="end">10</text>
<text transform="translate(442.68 463.6) scale(0.760 1)" class="ax" font-size="14">2</text>
<text transform="translate(477.16 468.3) scale(0.760 1)" class="ax" font-size="14" text-anchor="end">10</text>
<text transform="translate(478.18 463.6) scale(0.760 1)" class="ax" font-size="14">3</text>
<text transform="translate(512.66 468.3) scale(0.760 1)" class="ax" font-size="14" text-anchor="end">10</text>
<text transform="translate(513.79 463.6) scale(0.760 1)" class="ax" font-size="14">4</text>
<text transform="translate(361.6 346.5) rotate(-90) scale(1 0.84)" class="ax" font-size="14" font-weight="bold" text-anchor="middle" textLength="22.2" lengthAdjust="spacingAndGlyphs">200</text>
<text transform="translate(360.7 451.2) rotate(-90) scale(1 0.84)" class="ax" font-size="14" font-weight="bold" text-anchor="middle">0</text>
<text transform="translate(346.8 399.3) rotate(-90) scale(1 0.94)" class="cnt" font-size="13" text-anchor="middle" textLength="40.5" lengthAdjust="spacingAndGlyphs">Counts</text></g>
<g><path d="M142.2 600.5 L142.2 599.0 L142.9 600.1 L143.6 598.7 L144.3 598.3 L145.0 598.2 L145.7 599.2 L146.4 599.2 L147.1 598.6 L147.9 599.2 L148.6 598.8 L149.3 599.4 L150.0 598.3 L150.7 599.1 L151.4 598.5 L152.1 599.5 L152.8 598.8 L153.5 599.3 L154.2 598.0 L154.9 598.5 L155.6 597.2 L156.4 597.3 L157.1 598.2 L157.8 597.3 L158.5 598.2 L159.2 595.6 L159.8 597.3 L160.5 597.0 L161.2 596.7 L161.9 592.5 L162.5 592.1 L163.2 590.4 L163.8 589.1 L164.5 586.0 L165.1 582.7 L165.8 582.5 L166.4 581.5 L167.3 572.8 L168.2 568.4 L169.0 565.9 L169.9 552.5 L170.8 553.0 L171.6 542.9 L172.3 544.0 L173.0 537.3 L173.7 542.1 L174.4 542.3 L175.2 540.4 L175.9 542.7 L176.8 547.5 L177.7 553.8 L178.5 561.2 L179.4 568.4 L180.3 571.2 L181.1 582.6 L182.0 588.0 L182.9 589.4 L183.7 592.2 L184.6 596.1 L185.2 597.4 L185.9 596.9 L186.5 597.3 L187.2 597.6 L187.9 599.0 L188.6 597.9 L189.3 599.5 L190.0 598.7 L190.7 597.9 L191.3 598.1 L192.0 599.7 L192.7 599.5 L193.4 599.7 L194.1 597.7 L194.8 598.3 L195.5 599.7 L196.2 598.5 L196.9 599.1 L197.6 598.7 L198.3 599.3 L199.0 599.0 L199.7 599.8 L200.5 599.6 L201.2 599.1 L201.9 599.2 L202.6 598.4 L203.3 599.6 L204.1 599.2 L204.8 598.4 L205.5 598.6 L206.2 599.4 L206.2 600.5Z" fill="#0a0a0a" stroke="#0a0a0a" stroke-width="0.6" stroke-linejoin="round"/>
<path d="M139.5 600.5v-1.0M140.4 600.5v-0.8M141.9 600.5v-0.6M145.5 600.5v-1.8M147.3 600.5v-0.8M150.1 600.5v-0.8M153.4 600.5v-0.6M154.4 600.5v-1.4M157.8 600.5v-1.4M159.8 600.5v-1.0M161.3 600.5v-1.0M169.3 600.5v-1.4M176.9 600.5v-1.0M177.9 600.5v-1.4M179.9 600.5v-0.6M183.2 600.5v-0.6M186.1 600.5v-1.8M191.7 600.5v-0.8M192.7 600.5v-1.0M194.0 600.5v-0.6M198.1 600.5v-1.8M203.7 600.5v-1.0M205.9 600.5v-0.6M207.1 600.5v-1.8M208.3 600.5v-1.4M210.5 600.5v-1.8M215.5 600.5v-1.0M218.9 600.5v-1.8M219.8 600.5v-1.0M220.7 600.5v-0.6M222.0 600.5v-0.6M222.8 600.5v-1.4M224.2 600.5v-0.8M230.5 600.5v-0.8M233.1 600.5v-1.4M236.5 600.5v-0.6M237.7 600.5v-0.6M238.6 600.5v-1.4M240.2 600.5v-0.6M241.8 600.5v-1.8M243.7 600.5v-1.0M244.7 600.5v-0.8M247.2 600.5v-1.0M248.4 600.5v-1.8M249.9 600.5v-1.0M251.9 600.5v-0.6M254.0 600.5v-1.4M255.7 600.5v-1.8M257.3 600.5v-0.8M260.5 600.5v-1.0M264.8 600.5v-1.4M267.4 600.5v-0.6M270.5 600.5v-0.6M272.3 600.5v-1.0M274.5 600.5v-0.8M276.4 600.5v-1.4M277.5 600.5v-1.4M278.4 600.5v-1.4" stroke="#111" stroke-width="1" fill="none"/>
<path d="M140.5 600.0 L140.5 598.5 L140.5 591.9 L141.3 591.5 L142.2 591.6 L143.1 591.4 L143.9 589.1 L144.8 588.2 L145.7 588.1 L146.5 586.5 L147.4 585.8 L148.2 580.9 L149.1 580.7 L150.0 577.6 L150.8 576.1 L151.7 570.5 L152.6 569.0 L153.4 561.4 L154.3 557.8 L155.2 555.4 L156.0 554.6 L156.9 550.5 L157.8 549.5 L158.6 545.0 L159.5 542.8 L160.4 545.4 L161.2 550.4 L162.1 549.8 L163.0 554.6 L163.8 558.1 L164.7 562.7 L165.6 568.3 L166.4 571.1 L167.3 575.1 L168.2 581.2 L169.0 585.6 L169.9 590.9 L170.8 593.3 L171.6 596.1 L172.5 597.5 L173.3 597.1 L174.2 598.5" fill="none" stroke="#7a7a7a" stroke-width="1.6" stroke-linejoin="round"/>
<rect x="138.5" y="497.5" width="144.0" height="103.0" fill="none" stroke="#111" stroke-width="1.25"/>
<path d="M138.5 598.35h-2.0M138.5 596.21h-2.0M138.5 594.06h-2.0M138.5 591.92h-3.0M138.5 589.77h-2.0M138.5 587.62h-2.0M138.5 585.48h-2.0M138.5 583.33h-3.0M138.5 581.19h-2.0M138.5 579.04h-2.0M138.5 576.90h-2.0M138.5 574.75h-3.0M138.5 572.60h-2.0M138.5 570.46h-2.0M138.5 568.31h-2.0M138.5 566.17h-3.0M138.5 564.02h-2.0M138.5 561.88h-2.0M138.5 559.73h-2.0M138.5 557.58h-3.0M138.5 555.44h-2.0M138.5 553.29h-2.0M138.5 551.15h-2.0M138.5 549.00h-3.0M138.5 546.85h-2.0M138.5 544.71h-2.0M138.5 542.56h-2.0M138.5 540.42h-3.0M138.5 538.27h-2.0M138.5 536.12h-2.0M138.5 533.98h-2.0M138.5 531.83h-3.0M138.5 529.69h-2.0M138.5 527.54h-2.0M138.5 525.40h-2.0M138.5 523.25h-3.0M138.5 521.10h-2.0M138.5 518.96h-2.0M138.5 516.81h-2.0M138.5 514.67h-3.0M138.5 512.52h-2.0M138.5 510.38h-2.0M138.5 508.23h-2.0M138.5 506.08h-3.0M138.5 503.94h-2.0M138.5 501.79h-2.0M138.5 499.65h-2.0" stroke="#000" stroke-width="1.05" fill="none"/>
<path d="M138.50 600.5v3.4M149.34 600.5v2.0M155.68 600.5v2.0M160.17 600.5v2.0M163.66 600.5v2.0M166.51 600.5v2.0M168.92 600.5v2.0M171.01 600.5v2.0M172.85 600.5v2.0M174.50 600.5v3.4M185.34 600.5v2.0M191.68 600.5v2.0M196.17 600.5v2.0M199.66 600.5v2.0M202.51 600.5v2.0M204.92 600.5v2.0M207.01 600.5v2.0M208.85 600.5v2.0M210.50 600.5v3.4M221.34 600.5v2.0M227.68 600.5v2.0M232.17 600.5v2.0M235.66 600.5v2.0M238.51 600.5v2.0M240.92 600.5v2.0M243.01 600.5v2.0M244.85 600.5v2.0M246.50 600.5v3.4M257.34 600.5v2.0M263.68 600.5v2.0M268.17 600.5v2.0M271.66 600.5v2.0M274.51 600.5v2.0M276.92 600.5v2.0M279.01 600.5v2.0M280.85 600.5v2.0M282.50 600.5v3.2" stroke="#111" stroke-width="0.9" fill="none"/>
<path d="M169.5 533.5H271.5M169.5 527.5v12M271.5 527.5v12" stroke="#111" stroke-width="1.3" fill="none"/>
<text x="224.8" y="540.8" class="m1" textLength="8.6" lengthAdjust="spacingAndGlyphs">M1</text>
<text transform="translate(142.90 619.9) scale(1.000 1)" class="ax" font-size="14" text-anchor="end">10</text>
<text transform="translate(143.10 613.7) scale(1.000 1)" class="ax" font-size="14">0</text>
<text transform="translate(178.90 619.9) scale(1.000 1)" class="ax" font-size="14" text-anchor="end">10</text>
<text transform="translate(178.17 613.7) scale(1.000 1)" class="ax" font-size="14">1</text>
<text transform="translate(214.90 619.9) scale(1.000 1)" class="ax" font-size="14" text-anchor="end">10</text>
<text transform="translate(215.28 613.7) scale(1.000 1)" class="ax" font-size="14">2</text>
<text transform="translate(250.90 619.9) scale(1.000 1)" class="ax" font-size="14" text-anchor="end">10</text>
<text transform="translate(251.28 613.7) scale(1.000 1)" class="ax" font-size="14">3</text>
<text transform="translate(286.90 619.9) scale(1.000 1)" class="ax" font-size="14" text-anchor="end">10</text>
<text transform="translate(287.42 613.7) scale(1.000 1)" class="ax" font-size="14">4</text>
<text transform="translate(132.3 498.4) rotate(-90) scale(1 1.00)" class="ax" font-size="14" text-anchor="middle" textLength="25.2" lengthAdjust="spacingAndGlyphs">120</text>
<text transform="translate(132.3 600.0) rotate(-90) scale(1 1.00)" class="ax" font-size="14" text-anchor="middle">0</text>
<text transform="translate(113.1 549.3) rotate(-90) scale(1 1.00)" class="cnt" font-size="13.5" text-anchor="middle" textLength="46.0" lengthAdjust="spacingAndGlyphs">Counts</text></g>
<g><path d="M372.4 600.5 L372.4 599.9 L373.1 599.6 L373.8 600.1 L374.5 600.0 L375.2 599.3 L375.9 599.5 L376.6 600.0 L377.3 599.4 L378.0 598.0 L378.7 598.5 L379.4 599.4 L380.1 598.4 L380.8 599.6 L381.6 598.5 L382.3 599.1 L383.0 599.7 L383.7 598.7 L384.4 597.8 L385.1 598.4 L385.8 598.0 L386.5 599.3 L387.2 598.1 L387.9 597.7 L388.6 598.1 L389.3 598.5 L390.0 598.8 L390.7 598.2 L391.4 597.9 L392.1 597.3 L392.9 594.9 L393.6 595.3 L394.3 594.9 L395.0 593.7 L395.8 591.6 L396.4 590.2 L397.0 593.0 L397.7 592.3 L398.3 591.0 L399.2 584.4 L400.1 579.4 L400.7 579.8 L401.4 573.5 L402.0 570.6 L402.7 572.3 L403.5 561.5 L404.4 557.5 L405.3 550.2 L406.1 549.5 L407.0 539.9 L407.9 539.7 L408.5 533.2 L409.1 528.6 L409.8 537.1 L410.5 537.0 L411.3 548.3 L412.2 548.8 L412.9 560.7 L413.6 568.8 L414.2 572.0 L414.8 582.4 L415.4 586.8 L416.0 590.6 L416.7 594.7 L417.4 595.7 L418.1 596.8 L418.8 598.5 L419.5 598.0 L420.3 596.9 L421.0 599.1 L421.7 599.0 L422.4 597.8 L423.1 597.2 L423.7 598.3 L424.4 596.5 L425.1 597.6 L425.8 596.3 L426.4 598.4 L427.1 596.7 L427.8 596.1 L428.5 596.8 L429.3 598.6 L430.0 596.6 L430.7 597.5 L431.5 597.9 L432.2 597.4 L433.0 598.2 L433.7 597.0 L434.3 598.2 L435.0 599.5 L435.7 598.4 L436.4 599.1 L437.1 598.3 L437.8 599.3 L438.5 598.3 L439.2 599.3 L439.9 600.0 L440.6 599.1 L441.3 599.7 L442.0 598.8 L442.8 598.9 L443.5 598.4 L444.2 598.8 L444.9 599.5 L445.7 599.7 L446.4 599.7 L447.1 599.6 L447.8 598.6 L448.5 599.4 L448.5 600.5Z" fill="#0a0a0a" stroke="#0a0a0a" stroke-width="0.6" stroke-linejoin="round"/>
<path d="M373.3 600.5v-1.4M374.6 600.5v-0.6M375.6 600.5v-1.4M377.4 600.5v-0.8M378.7 600.5v-0.8M380.0 600.5v-0.8M381.0 600.5v-0.8M383.0 600.5v-1.4M387.1 600.5v-1.0M388.6 600.5v-1.8M390.4 600.5v-1.4M393.1 600.5v-1.0M394.1 600.5v-1.8M398.7 600.5v-1.8M399.8 600.5v-0.8M406.8 600.5v-0.6M408.8 600.5v-0.6M411.6 600.5v-0.8M413.2 600.5v-1.8M414.1 600.5v-0.8M417.8 600.5v-0.6M423.7 600.5v-0.8M425.3 600.5v-1.4M429.1 600.5v-1.8M430.8 600.5v-0.6M432.0 600.5v-0.8M435.5 600.5v-1.0M437.3 600.5v-1.8M439.0 600.5v-0.6M440.8 600.5v-0.8M443.7 600.5v-1.0M446.4 600.5v-1.0M447.5 600.5v-1.0M450.1 600.5v-1.4M451.8 600.5v-1.0M453.4 600.5v-1.4M455.2 600.5v-1.0M456.8 600.5v-1.0M464.1 600.5v-0.6M470.8 600.5v-1.0M477.8 600.5v-1.0M484.8 600.5v-1.0M486.4 600.5v-0.8M487.4 600.5v-0.8M492.4 600.5v-0.8M496.2 600.5v-0.8M497.1 600.5v-0.8M499.9 600.5v-1.0M501.0 600.5v-1.0M504.8 600.5v-1.8" stroke="#111" stroke-width="1" fill="none"/>
<path d="M370.7 600.0 L370.7 598.1 L370.7 591.7 L371.5 591.4 L372.4 592.5 L373.2 592.0 L374.1 591.7 L375.0 591.8 L375.8 589.5 L376.7 588.4 L377.6 587.3 L378.4 584.9 L379.3 579.1 L380.2 577.2 L381.0 571.3 L381.9 567.4 L382.8 562.9 L383.6 556.6 L384.5 547.0 L385.4 546.2 L386.2 547.9 L387.1 545.8 L388.0 540.9 L388.8 537.8 L389.7 532.7 L390.6 538.9 L391.4 539.1 L392.1 538.6 L392.8 534.2 L393.4 537.9 L394.0 545.8 L394.9 551.4 L395.8 560.5 L396.6 565.2 L397.5 569.1 L398.3 574.9 L399.2 580.8 L400.1 585.5 L400.9 590.1 L401.8 592.7 L402.7 595.7 L403.5 596.0 L404.4 597.8 L405.3 598.5" fill="none" stroke="#7a7a7a" stroke-width="1.6" stroke-linejoin="round"/>
<rect x="369.5" y="496.5" width="139.0" height="104.0" fill="none" stroke="#111" stroke-width="1.25"/>
<path d="M369.5 598.33h-2.0M369.5 596.17h-2.0M369.5 594.00h-2.0M369.5 591.83h-3.0M369.5 589.67h-2.0M369.5 587.50h-2.0M369.5 585.33h-2.0M369.5 583.17h-3.0M369.5 581.00h-2.0M369.5 578.83h-2.0M369.5 576.67h-2.0M369.5 574.50h-3.0M369.5 572.33h-2.0M369.5 570.17h-2.0M369.5 568.00h-2.0M369.5 565.83h-3.0M369.5 563.67h-2.0M369.5 561.50h-2.0M369.5 559.33h-2.0M369.5 557.17h-3.0M369.5 555.00h-2.0M369.5 552.83h-2.0M369.5 550.67h-2.0M369.5 548.50h-3.0M369.5 546.33h-2.0M369.5 544.17h-2.0M369.5 542.00h-2.0M369.5 539.83h-3.0M369.5 537.67h-2.0M369.5 535.50h-2.0M369.5 533.33h-2.0M369.5 531.17h-3.0M369.5 529.00h-2.0M369.5 526.83h-2.0M369.5 524.67h-2.0M369.5 522.50h-3.0M369.5 520.33h-2.0M369.5 518.17h-2.0M369.5 516.00h-2.0M369.5 513.83h-3.0M369.5 511.67h-2.0M369.5 509.50h-2.0M369.5 507.33h-2.0M369.5 505.17h-3.0M369.5 503.00h-2.0M369.5 500.83h-2.0M369.5 498.67h-2.0" stroke="#000" stroke-width="1.05" fill="none"/>
<path d="M369.50 600.5v3.4M379.96 600.5v2.0M386.08 600.5v2.0M390.42 600.5v2.0M393.79 600.5v2.0M396.54 600.5v2.0M398.87 600.5v2.0M400.88 600.5v2.0M402.66 600.5v2.0M404.25 600.5v3.4M414.71 600.5v2.0M420.83 600.5v2.0M425.17 600.5v2.0M428.54 600.5v2.0M431.29 600.5v2.0M433.62 600.5v2.0M435.63 600.5v2.0M437.41 600.5v2.0M439.00 600.5v3.4M449.46 600.5v2.0M455.58 600.5v2.0M459.92 600.5v2.0M463.29 600.5v2.0M466.04 600.5v2.0M468.37 600.5v2.0M470.38 600.5v2.0M472.16 600.5v2.0M473.75 600.5v3.4M484.21 600.5v2.0M490.33 600.5v2.0M494.67 600.5v2.0M498.04 600.5v2.0M500.79 600.5v2.0M503.12 600.5v2.0M505.13 600.5v2.0M506.91 600.5v2.0M508.50 600.5v3.2" stroke="#111" stroke-width="0.9" fill="none"/>
<path d="M402.5 533.5H500.5M402.5 527.5v12M500.5 527.5v12" stroke="#111" stroke-width="1.3" fill="none"/>
<text x="454.5" y="541.2" class="m1" textLength="8.1" lengthAdjust="spacingAndGlyphs">M1</text>
<text transform="translate(372.60 620.4) scale(0.800 1)" class="ax" font-size="14.5" text-anchor="end">10</text>
<text transform="translate(373.40 615.0) scale(0.800 1)" class="ax" font-size="14.5">0</text>
<text transform="translate(407.35 620.4) scale(0.800 1)" class="ax" font-size="14.5" text-anchor="end">10</text>
<text transform="translate(407.39 615.0) scale(0.800 1)" class="ax" font-size="14.5">1</text>
<text transform="translate(442.10 620.4) scale(0.800 1)" class="ax" font-size="14.5" text-anchor="end">10</text>
<text transform="translate(443.05 615.0) scale(0.800 1)" class="ax" font-size="14.5">2</text>
<text transform="translate(476.85 620.4) scale(0.800 1)" class="ax" font-size="14.5" text-anchor="end">10</text>
<text transform="translate(477.80 615.0) scale(0.800 1)" class="ax" font-size="14.5">3</text>
<text transform="translate(511.60 620.4) scale(0.800 1)" class="ax" font-size="14.5" text-anchor="end">10</text>
<text transform="translate(512.67 615.0) scale(0.800 1)" class="ax" font-size="14.5">4</text>
<text transform="translate(363.6 495.7) rotate(-90) scale(1 0.90)" class="ax" font-size="14.5" text-anchor="middle" textLength="25.7" lengthAdjust="spacingAndGlyphs">120</text>
<text transform="translate(363.6 600.7) rotate(-90) scale(1 0.90)" class="ax" font-size="14.5" text-anchor="middle">0</text>
<text transform="translate(347.5 548.9) rotate(-90) scale(1 1.00)" class="cnt" font-size="14.5" text-anchor="middle" textLength="49.0" lengthAdjust="spacingAndGlyphs">Counts</text></g>
<path d="M137 657H246" stroke="#111" stroke-width="2"/>
<text class="t" x="290.4" y="666.8" style="font-size:29.6px;font-kerning:none" textLength="79" lengthAdjust="spacingAndGlyphs">WASP</text>
<path d="M390 658.6H486" stroke="#111" stroke-width="2"/>
<path d="M485 648L505 658.6L485 669Z" fill="#111"/>
</svg>
</body></html>
